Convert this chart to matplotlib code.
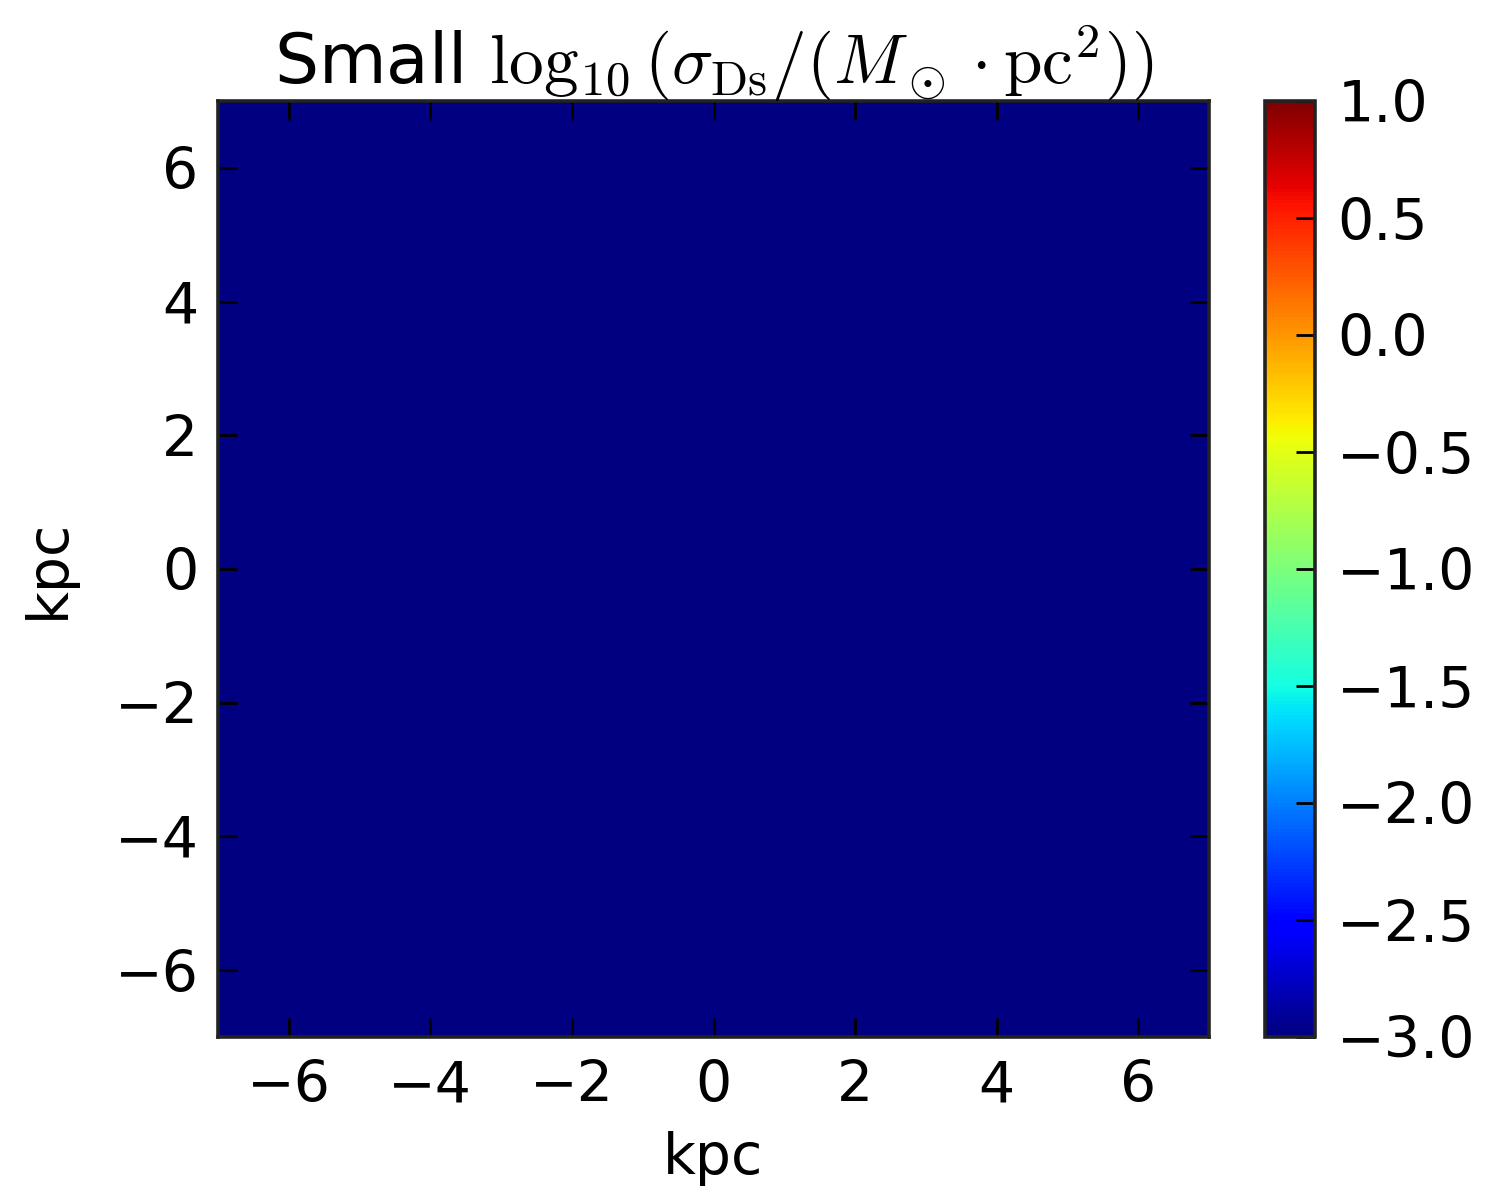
import numpy as np
import matplotlib
matplotlib.use("Agg")
import matplotlib.pyplot as plt

plt.rcParams['mathtext.fontset'] = 'cm'
plt.rcParams['font.family'] = ['DejaVu Sans']

# data: surface density map (log10), uniformly at the colour floor
x_edges = [-7.0, 7.0]
y_edges = [-7.0, 7.0]
sigma_log = np.array([[-3.0, -3.0], [-3.0, -3.0]])
vmin, vmax = -3.0, 1.0
xticks = [-6, -4, -2, 0, 2, 4, 6]
yticks = [-6, -4, -2, 0, 2, 4, 6]
cbar_ticks = [-3.0, -2.5, -2.0, -1.5, -1.0, -0.5, 0.0, 0.5, 1.0]

fig = plt.figure(figsize=(7.435, 6.0), dpi=200, facecolor='white')
ax = fig.add_axes([218/1487, 1 - 1037/1200, (1209-218)/1487, (1037-101)/1200])
cax = fig.add_axes([1265/1487, 1 - 1037/1200, (1315-1265)/1487, (1037-101)/1200])

xe = np.linspace(x_edges[0], x_edges[1], sigma_log.shape[1] + 1)
ye = np.linspace(y_edges[0], y_edges[1], sigma_log.shape[0] + 1)
mesh = ax.pcolormesh(xe, ye, sigma_log, cmap='jet', vmin=vmin, vmax=vmax, shading='flat')
ax.set_xlim(-7, 7)
ax.set_ylim(-7, 7)
ax.set_xticks(xticks)
ax.set_yticks(yticks)
ax.tick_params(axis='x', direction='in', length=7, width=1, top=True, labelsize=20.5, pad=8)
ax.tick_params(axis='y', direction='in', length=7, width=1, right=True, labelsize=20.5, pad=7)
for s in ax.spines.values():
    s.set_linewidth(1.3)
    s.set_edgecolor('#222222')
ax.set_xlabel('kpc', fontsize=20.5, labelpad=6)
ax.set_ylabel('kpc', fontsize=20.5, labelpad=14)
ax.set_title(r'Small $\log_{10}(\sigma_{\rm Ds}/(M_\odot\cdot{\rm pc}^2))$', fontsize=25, pad=6)

cb = fig.colorbar(mesh, cax=cax, ticks=cbar_ticks)
cb.ax.tick_params(direction='in', length=7, width=1, labelsize=20.5, pad=8)
cb.outline.set_linewidth(1.3)
cb.outline.set_edgecolor('#222222')

fig.savefig('out.png', dpi=200, facecolor='white')
